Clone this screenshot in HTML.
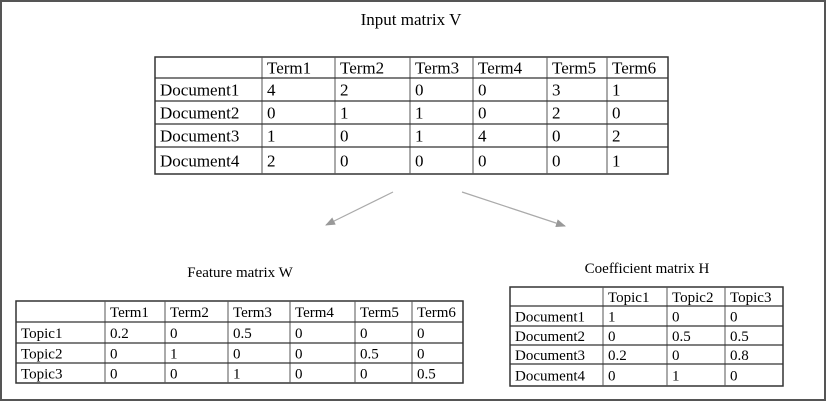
<!DOCTYPE html>
<html><head><meta charset="utf-8"><style>
html,body{margin:0;padding:0;background:#fff;}
svg, svg text{font-family:"Liberation Serif","Times New Roman",serif;}
</style></head><body>
<svg id="s" width="827" height="402" viewBox="0 0 827 402">
<rect x="1" y="1" width="824" height="399" fill="#fff" stroke="#555" stroke-width="2"/>
<text x="411" y="25" font-size="17" font-family="Liberation Serif, serif" text-anchor="middle">Input matrix V</text>
<text x="240" y="277" font-size="15" font-family="Liberation Serif, serif" text-anchor="middle">Feature matrix W</text>
<text x="647" y="273" font-size="15" font-family="Liberation Serif, serif" text-anchor="middle">Coefficient matrix H</text>
<defs><marker id="ah" markerWidth="10" markerHeight="8" refX="9" refY="4" orient="auto" markerUnits="userSpaceOnUse"><path d="M0,0 L10,4 L0,8 z" fill="#999"/></marker></defs>
<line x1="393" y1="192" x2="326" y2="225" stroke="#aaa" stroke-width="1.2" marker-end="url(#ah)"/>
<line x1="462" y1="192" x2="565" y2="226" stroke="#aaa" stroke-width="1.2" marker-end="url(#ah)"/>
<g id="tables"></g>
</svg>
<script>
const vCols=["Term1","Term2","Term3","Term4","Term5","Term6"];
const vRows=["Document1","Document2","Document3","Document4"];
const vVals=[["4","2","0","0","3","1"],["0","1","1","0","2","0"],["1","0","1","4","0","2"],["2","0","0","0","0","1"]];
const wCols=["Term1","Term2","Term3","Term4","Term5","Term6"];
const wRows=["Topic1","Topic2","Topic3"];
const wVals=[["0.2","0","0.5","0","0","0"],["0","1","0","0","0.5","0"],["0","0","1","0","0","0.5"]];
const hCols=["Topic1","Topic2","Topic3"];
const hRows=["Document1","Document2","Document3","Document4"];
const hVals=[["1","0","0"],["0","0.5","0.5"],["0.2","0","0.8"],["0","1","0"]];
const NS="http://www.w3.org/2000/svg";
const g=document.getElementById('tables');
function table(name,xs,ys,cols,rows,vals,fs){
  const t=document.createElementNS(NS,'g');
  
  
  g.appendChild(t);
  const r=document.createElementNS(NS,'rect');
  r.setAttribute('x',xs[0]);r.setAttribute('y',ys[0]);
  r.setAttribute('width',xs[xs.length-1]-xs[0]);r.setAttribute('height',ys[ys.length-1]-ys[0]);
  r.setAttribute('fill','none');r.setAttribute('stroke','#333');r.setAttribute('stroke-width','1.5');
  t.appendChild(r);
  xs.slice(1,-1).forEach(x=>{const l=document.createElementNS(NS,'line');l.setAttribute('x1',x);l.setAttribute('x2',x);l.setAttribute('y1',ys[0]);l.setAttribute('y2',ys[ys.length-1]);l.setAttribute('stroke','#555');t.appendChild(l);});
  ys.slice(1,-1).forEach(y=>{const l=document.createElementNS(NS,'line');l.setAttribute('x1',xs[0]);l.setAttribute('x2',xs[xs.length-1]);l.setAttribute('y1',y);l.setAttribute('y2',y);l.setAttribute('stroke','#333');l.setAttribute('stroke-width','1.3');t.appendChild(l);});
  function txt(s,i,j,nm){const e=document.createElementNS(NS,'text');e.setAttribute('x',xs[i]+5);e.setAttribute('y',(ys[j]+ys[j+1])/2+fs*0.35);e.setAttribute('font-size',fs);e.setAttribute('font-family','Liberation Serif, serif');e.textContent=s;
    
    
    t.appendChild(e);}
  cols.forEach((c,i)=>txt(c,i+1,0,name+'-col-'+c.toLowerCase()));
  rows.forEach((rw,j)=>{txt(rw,0,j+1,name+'-row-'+rw.toLowerCase());vals[j].forEach((v,i)=>txt(v,i+1,j+1,name+'-cell'));});
}
table('input-matrix-v',[155,262,335,410,473,547,607,668],[57,78,101,124,147,174],vCols,vRows,vVals,17);
table('feature-matrix-w',[16,105,165,228,290,355,412,463],[301,322,343,363,383],wCols,wRows,wVals,15);
table('coefficient-matrix-h',[510,603,667,725,783],[287,306,326,345,364,386],hCols,hRows,hVals,15);
</script>
</body></html>
